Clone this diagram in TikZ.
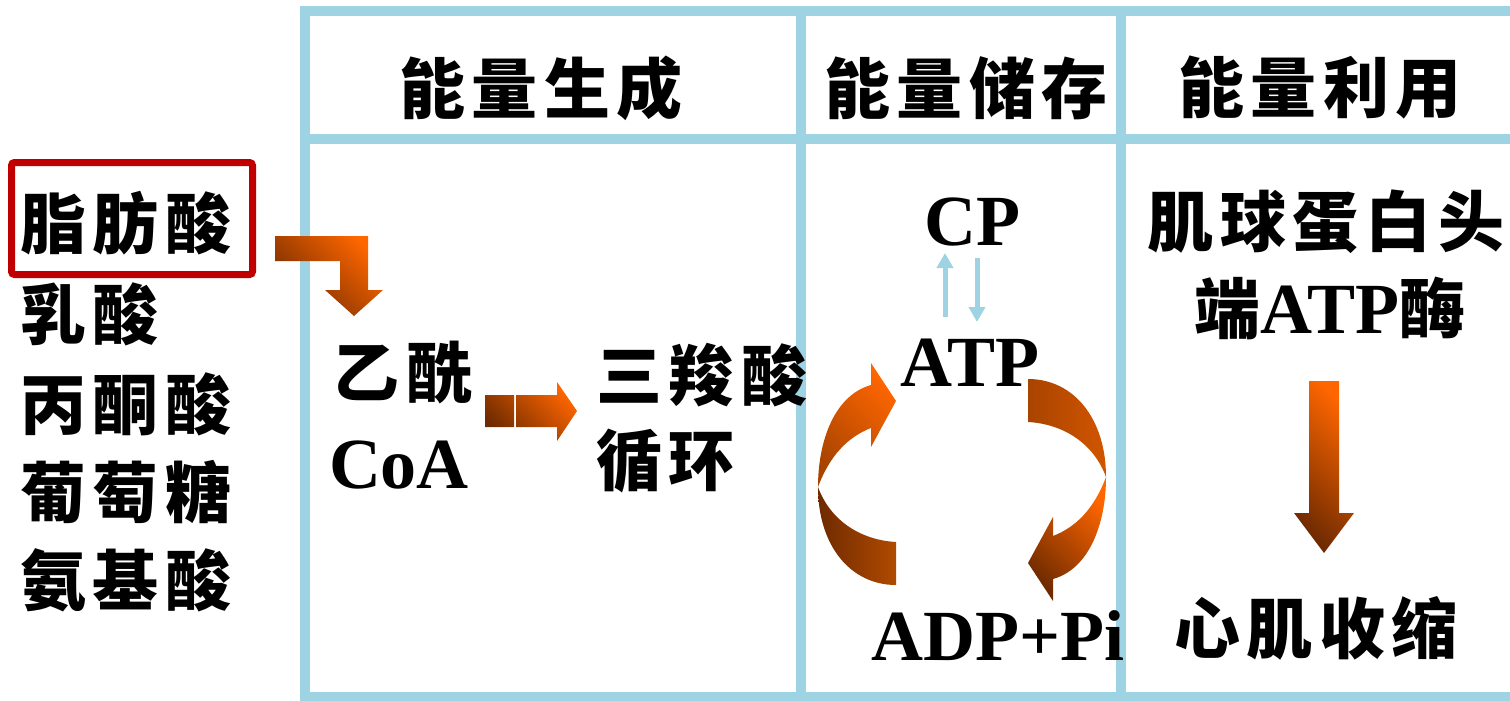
\documentclass[tikz,border=0pt]{standalone}
\usepackage{fontspec}
\setmainfont{Liberation Serif}
\newfontfamily\cjk{Noto Sans CJK SC}[LetterSpace=10]
\usetikzlibrary{arrows.meta,calc}
\definecolor{tblue}{HTML}{9DD3E2}
\definecolor{tred}{HTML}{C00000}
\definecolor{orA}{HTML}{FF6600}
\definecolor{brA}{HTML}{6E2A00}
\definecolor{brB}{HTML}{A84400}
\definecolor{orB}{HTML}{D25500}
\definecolor{brC}{HTML}{B04A00}
\newcommand{\cjt}[1]{{\cjk\bfseries\fontsize{66}{72}\selectfont #1}}
\begin{document}
\begin{tikzpicture}[x=1pt,y=-1pt,
  tline/.style={draw=tblue, line width=10pt},
  cjkt/.style={font={\cjk\bfseries\fontsize{66}{72}\selectfont}, inner sep=0pt},
  latt/.style={font={\bfseries\fontsize{72}{78}\selectfont}, inner sep=0pt},
  grad/.style={top color=orA, bottom color=brA, shading angle=-45},
  gradhead/.style={top color=orA, bottom color=brB, shading angle=-45},
  gradtail/.style={left color=brA, right color=brC},
  gradtailB/.style={left color=brB, right color=orB},
  redbox/.style={draw=tred, line width=7pt, rounded corners=3pt, minimum width=241pt, minimum height=112pt, inner sep=0pt},
  blarrow/.style={draw=tblue, line width=5pt, -{Triangle[width=16pt,length=15pt]}}]
\useasboundingbox (0,0) rectangle (1510,701);
\clip (0,0) rectangle (1510,701);
% table
\draw[tline] (305,11) rectangle (1540,697);
\draw[tline] (305,139) -- (1540,139);
\draw[tline] (801,11) -- (801,697);
\draw[tline] (1121,11) -- (1121,697);
% headers
\node[cjkt] (h1) at (541,88) {能量生成};
\node[cjkt] (h2) at (966,88) {能量储存};
\node[cjkt] (h3) at (1320,88) {能量利用};
% left list
\node[redbox] (fabox) at (132,218.5) {};
\node[cjkt, anchor=west] (fa) at (20,223) {脂肪酸};
\node[cjkt, anchor=west] (la) at (20,314) {乳酸};
\node[cjkt, anchor=west] (py) at (20,404) {丙酮酸};
\node[cjkt, anchor=west] (gl) at (20,492) {葡萄糖};
\node[cjkt, anchor=west] (aa) at (20,580) {氨基酸};
% column 1
\node[cjkt] (ac) at (403,373) {乙酰};
\node[latt] (coa) at (399,465) {CoA};
\node[cjkt, anchor=west] (tca) at (596,375) {三羧酸};
\node[cjkt, anchor=west] (cyc) at (596,461) {循环};
% bent arrow
\shade[grad] (275,236) -- (368,236) -- (368,290) -- (383,290) -- (354,316) -- (325,290) -- (340,290) -- (340,261) -- (275,261) -- cycle;
% acetyl -> TCA arrow
\shade[grad] (485,395) rectangle (514,427)
  (516,395) -- (557,395) -- (557,382) -- (577,411) -- (557,441) -- (557,427) -- (516,427) -- cycle;
% column 2
\node[latt] (cp) at (972,222) {CP};
\node[latt] (atp) at (970,363) {ATP};
\node[latt] (adp) at (998,636) {ADP+Pi};
\coordinate (u1) at (945,317); \coordinate (u2) at (945,253);
\coordinate (d1) at (977,258); \coordinate (d2) at (977,322);
\draw[blarrow] (u1) -- (u2);
\draw[blarrow] (d1) -- (d2);
% cycle arrows: left (head piece + tail piece)
\shade[gradhead] (896,401) -- (871,363) -- (871,385)
  .. controls (835,395) and (818,440) .. (818,487)
  .. controls (830,455) and (848,437) .. (871,428)
  -- (871,447) -- cycle;
\shade[gradtail] (818,487)
  .. controls (818,545) and (850,585) .. (896,585)
  -- (896,542)
  .. controls (860,540) and (830,520) .. (818,487) -- cycle;
% right (tail piece + head piece)
\shade[gradtailB] (1106,477)
  .. controls (1106,419) and (1074,379) .. (1028,379)
  -- (1028,422)
  .. controls (1064,424) and (1094,444) .. (1106,477) -- cycle;
\shade[grad] (1028,563) -- (1053,601) -- (1053,579)
  .. controls (1089,569) and (1106,524) .. (1106,477)
  .. controls (1094,509) and (1076,527) .. (1053,536)
  -- (1053,517) -- cycle;
% column 3
\node[cjkt] (myo) at (1326,222) {肌球蛋白头};
\node[latt] (atpase) at (1330,308) {\cjt{端}ATP\cjt{酶}};
\node[cjkt] (con) at (1316,628) {心肌收缩};
\shade[grad] (1309,381) -- (1339,381) -- (1339,513) -- (1354,513) -- (1324,553) -- (1294,513) -- (1309,513) -- cycle;
\end{tikzpicture}
\end{document}
